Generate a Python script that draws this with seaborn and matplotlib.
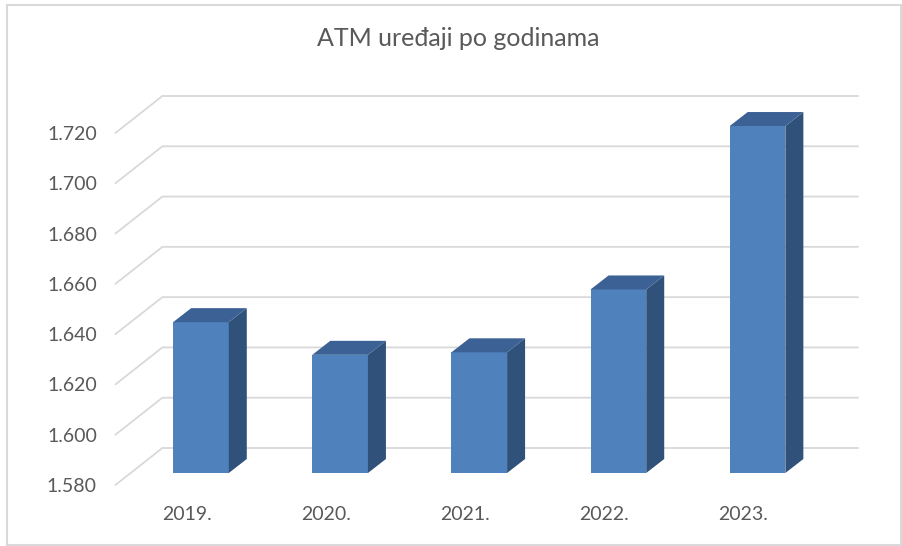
import matplotlib
matplotlib.use("Agg")
import matplotlib.pyplot as plt
import pandas as pd
import seaborn as sns
from matplotlib.transforms import ScaledTranslation, IdentityTransform
from matplotlib.patches import Polygon, Rectangle
from matplotlib.lines import Line2D

# ---- data ----
years = ["2019.", "2020.", "2021.", "2022.", "2023."]
atm_counts = [1640, 1627, 1628, 1653, 1718]
y_ticks = [1580, 1600, 1620, 1640, 1660, 1680, 1700, 1720]
y_tick_labels = ["1.580", "1.600", "1.620", "1.640", "1.660", "1.680", "1.700", "1.720"]
title = "ATM uređaji po godinama"

# ---- style ----
W, H, DPI = 902, 546, 100
FRONT = "#4F81BD"
SIDE = "#30527A"
TOP = "#3C6194"
GRID = "#D9D9D9"
TEXT = "#595959"

sns.set_theme(style="white")
plt.rcParams["font.family"] = ["Lato", "DejaVu Sans"]

fig = plt.figure(figsize=(W / DPI, H / DPI), dpi=DPI)
fig.patch.set_facecolor("white")
# axes = plane of the bars' front faces
ax = fig.add_axes([131.4 / W, (H - 473) / H, 695.7 / W, 352 / H])
ax.patch.set_visible(False)

df = pd.DataFrame({"year": years, "count": atm_counts})
sns.barplot(data=df, x="year", y="count", color=FRONT, saturation=1,
            width=0.4, ax=ax, zorder=3, linewidth=0)
ax.set_xlim(-0.5, 4.5)
ax.set_ylim(y_ticks[0], y_ticks[-1])
ax.autoscale(False)
for s in ax.spines.values():
    s.set_visible(False)
ax.set_xlabel("")
ax.set_ylabel("")

# depth offsets in pixels (3-D look)
FRONT_EDGE = (-16, -12)
BACK_WALL = (31, 25)
BAR_DEPTH = (18, 14)

def px(x, v, off=(0, 0)):
    X, Y = ax.transData.transform((x, v))
    return X + off[0], Y + off[1]

x_lo, x_hi = ax.get_xlim()
# gridlines: floor/side diagonal + back wall line
for v in y_ticks:
    p0 = px(x_lo, v, FRONT_EDGE)
    p1 = px(x_lo, v, BACK_WALL)
    p2 = px(x_hi, v, BACK_WALL)
    ax.add_line(Line2D([p0[0], p1[0], p2[0]], [p0[1], p1[1], p2[1]],
                       transform=IdentityTransform(), color=GRID, lw=1.3,
                       clip_on=False, zorder=1))

# side and top faces of the bars
base = ax.get_ylim()[0]
for p in list(ax.patches):
    x0, w, h = p.get_x(), p.get_width(), p.get_height()
    lt = px(x0, h)
    rt = px(x0 + w, h)
    rb = px(x0 + w, base)
    dx, dy = BAR_DEPTH
    side = Polygon([rb, rt, (rt[0] + dx, rt[1] + dy), (rb[0] + dx, rb[1] + dy)],
                   closed=True, transform=IdentityTransform(), fc=SIDE,
                   ec="none", clip_on=False, zorder=3)
    top = Polygon([lt, rt, (rt[0] + dx, rt[1] + dy), (lt[0] + dx, lt[1] + dy)],
                  closed=True, transform=IdentityTransform(), fc=TOP,
                  ec="none", clip_on=False, zorder=3)
    ax.add_patch(side)
    ax.add_patch(top)

# ticks
ax.set_yticks(y_ticks, labels=y_tick_labels)
ax.tick_params(axis="both", length=0, labelsize=14, labelcolor=TEXT)
ax.tick_params(axis="y", pad=24.8)
ax.tick_params(axis="x", pad=23.5)
for lab in ax.get_yticklabels():
    lab.set_transform(lab.get_transform() +
                      ScaledTranslation(0, FRONT_EDGE[1] / DPI, fig.dpi_scale_trans))
for lab in ax.get_xticklabels():
    lab.set_transform(lab.get_transform() +
                      ScaledTranslation(-14 / DPI, 0, fig.dpi_scale_trans))

fig.suptitle(title, x=458 / W, y=1 - 38 / H, va="center", ha="center",
             fontsize=18, color=TEXT)

# chart border
fig.add_artist(Rectangle((7 / W, 1 - 545 / H), (901 - 7) / W, (545 - 5) / H,
                         transform=fig.transFigure, fill=False, ec=GRID, lw=1.5))

fig.savefig("out.png", dpi=DPI)
